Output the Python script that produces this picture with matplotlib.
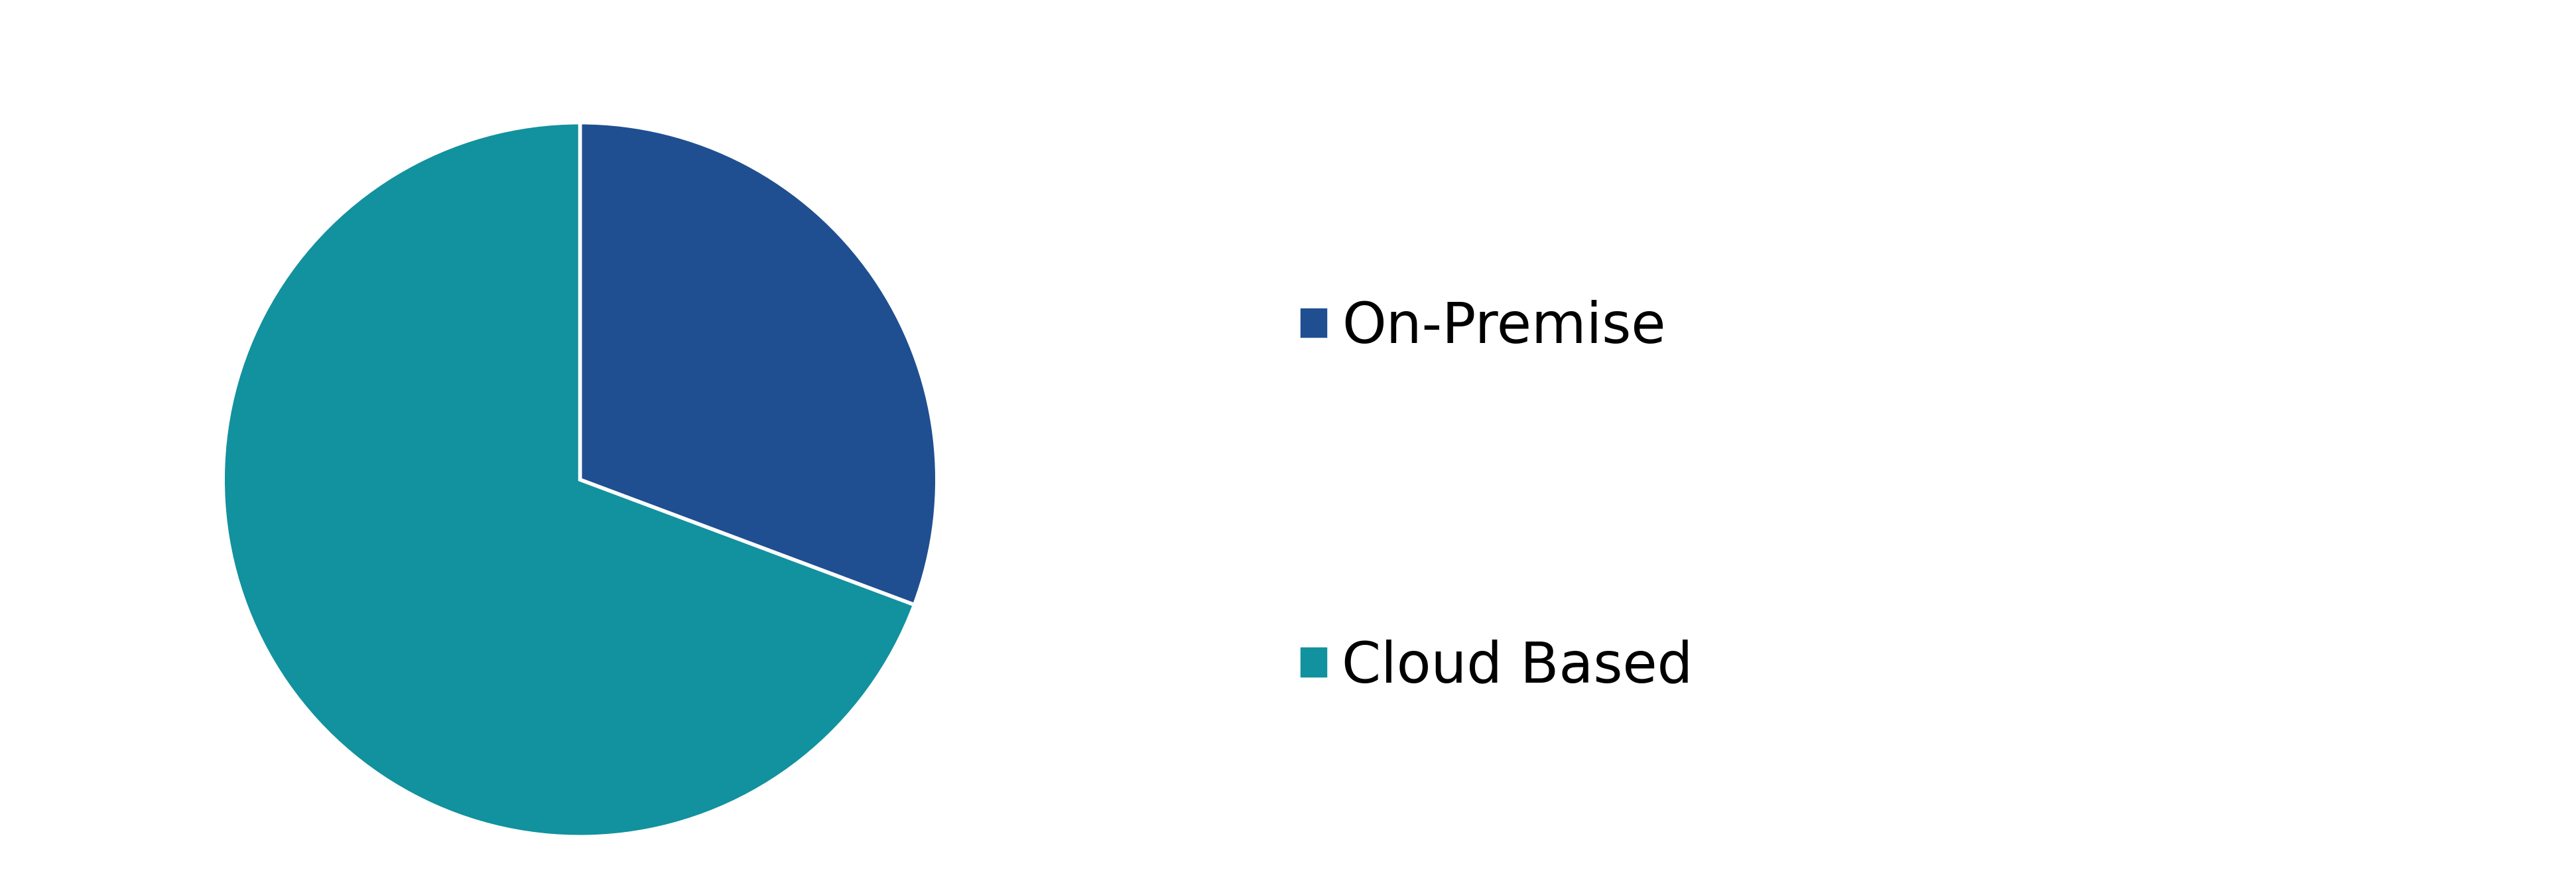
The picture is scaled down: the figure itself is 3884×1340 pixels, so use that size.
import matplotlib.pyplot as plt

labels = ["On-Premise", "Cloud Based"]
shares = [30.7, 69.3]
colors = ["#1F4F91", "#12919E"]

W, H = 3884, 1340
fig = plt.figure(figsize=(W / 100, H / 100), dpi=100)

# pie centre ~ (874, 723 from top), radius ~540 px
cx, cy, r = 874.5, H - 723, 541
ax = fig.add_axes([(cx - r) / W, (cy - r) / H, 2 * r / W, 2 * r / H])
wedges, _ = ax.pie(shares, colors=colors, startangle=90, counterclock=False,
                   wedgeprops={"edgecolor": "white", "linewidth": 4})
ax.set_xlim(-1.005, 1.005)
ax.set_ylim(-1.005, 1.005)
ax.set_aspect("equal")
ax.axis("off")

fig.legend(wedges, labels, loc="upper left", bbox_to_anchor=(1958 / W, 1 - 452 / H),
           frameon=False, fontsize=61, handlelength=0.54, handleheight=0.54,
           handletextpad=0.23, labelspacing=5.06, borderpad=0, borderaxespad=0)

fig.savefig("out.png", dpi=100, facecolor="white")
